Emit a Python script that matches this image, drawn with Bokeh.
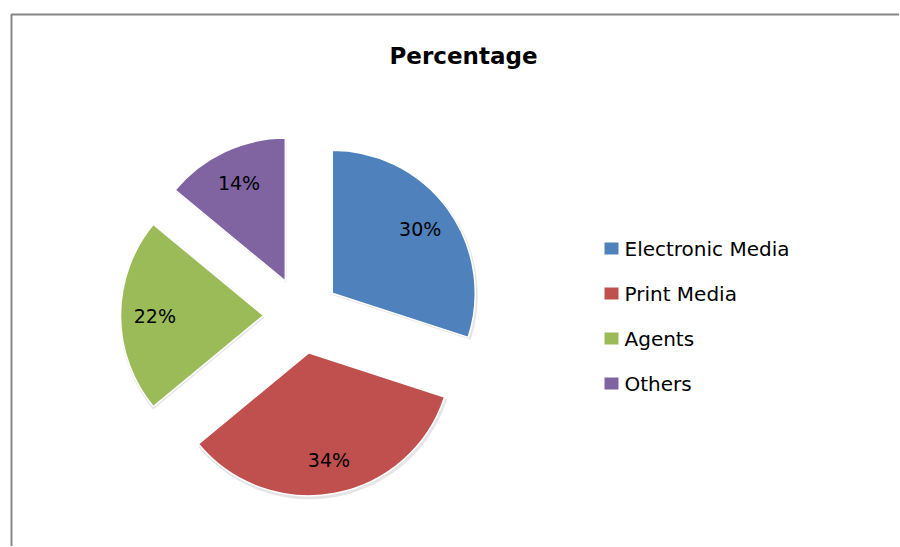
import math
from bokeh.plotting import figure
from bokeh.models import Range1d, ColumnDataSource, BoxAnnotation
from bokeh.core.properties import value
from bokeh.embed import file_html
from bokeh.resources import INLINE

# ---- data ----
title_text = "Percentage"
categories = ["Electronic Media", "Print Media", "Agents", "Others"]
percentages = [30, 34, 22, 14]
colors = ["#4F81BD", "#C0504D", "#9BBB59", "#8064A2"]

# ---- layout (screen-like coordinates: x right, y up, page height 547) ----
W, H = 899, 546
PAGE_H = 547
FONT = "DejaVu Sans"
p = figure(width=W, height=H,
           x_range=Range1d(0, W), y_range=Range1d(PAGE_H - H, PAGE_H),
           output_backend="svg", toolbar_location=None, min_border=0,
           x_axis_location=None, y_axis_location=None)
p.grid.visible = False
p.outline_line_color = None
p.background_fill_color = "white"

# chart area border (only top and left visible)
p.add_layout(BoxAnnotation(left=11, top=PAGE_H - 14, right=3000, bottom=-3000,
                           fill_alpha=0, line_color="#868686", line_alpha=1.0,
                           line_width=2))

cx, cy = 301, PAGE_H - 315
r = 143
explode = 38
label_frac = 0.76

total = float(sum(percentages))
xs, ys, starts, ends, lx, ly, lbl = [], [], [], [], [], [], []
cum = 0.0
for v in percentages:
    t1 = cum / total * 360.0
    t2 = (cum + v) / total * 360.0
    mid = math.radians(90 - (t1 + t2) / 2)
    x0 = cx + explode * math.cos(mid)
    y0 = cy + explode * math.sin(mid)
    xs.append(x0)
    ys.append(y0)
    starts.append(math.radians(90 - t2))
    ends.append(math.radians(90 - t1))
    lx.append(x0 + label_frac * r * math.cos(mid))
    ly.append(y0 + label_frac * r * math.sin(mid))
    lbl.append(f"{v:.0f}%")
    cum += v

src = ColumnDataSource(dict(x=xs, y=ys, start=starts, end=ends, color=colors,
                            lx=lx, ly=ly, label=lbl, cat=categories))
shadow = ColumnDataSource(dict(x=[x + 1.0 for x in xs], y=[y - 2.0 for y in ys],
                               start=starts, end=ends))

p.wedge(x="x", y="y", radius=r + 1.5, start_angle="start", end_angle="end",
        source=shadow, fill_color="#000000", fill_alpha=0.10, line_color=None)
p.wedge(x="x", y="y", radius=r, start_angle="start", end_angle="end",
        source=src, fill_color="color", line_color="white", line_width=1.5)

p.text(x="lx", y="ly", text="label", source=src, text_font=value(FONT),
       text_font_size="19px", text_color="#000000", text_align="center",
       text_baseline="middle")

# title
p.text(x=[463], y=[PAGE_H - 55], text=[title_text], text_font=value(FONT),
       text_font_size="23px", text_font_style="bold", text_color="#000000",
       text_align="center", text_baseline="middle")

# legend
leg_y = [PAGE_H - 248 - 45 * i for i in range(len(categories))]
leg = ColumnDataSource(dict(x=[611] * len(categories), tx=[624] * len(categories),
                            y=leg_y, color=colors, cat=categories))
p.rect(x="x", y="y", width=14, height=12, source=leg, fill_color="color", line_color=None)
p.text(x="tx", y="y", text="cat", source=leg, text_font=value(FONT),
       text_font_size="20px", text_color="#000000", text_align="left",
       text_baseline="middle")

open("out.html", "w").write(file_html(p, INLINE))
